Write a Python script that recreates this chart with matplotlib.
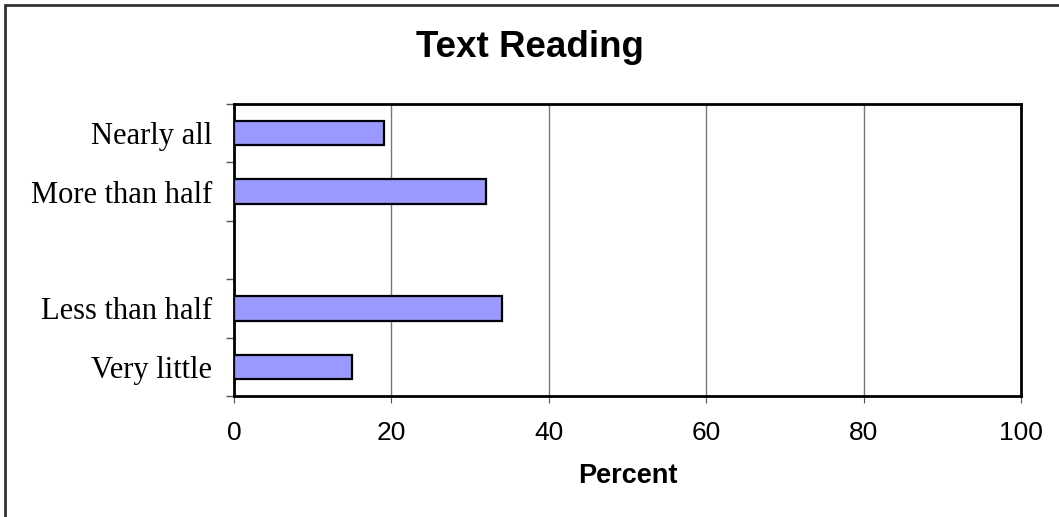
import matplotlib
matplotlib.use("Agg")
import matplotlib.pyplot as plt
from matplotlib.patches import Rectangle

categories = ["Nearly all", "More than half", "", "Less than half", "Very little"]
percent = [19, 32, None, 34, 15]
x_ticks = [0, 20, 40, 60, 80, 100]

fig = plt.figure(figsize=(10.59, 5.17), dpi=100)
ax = fig.add_axes([0.221, 0.234, 0.743, 0.565])

# outer chart frame
fig.patches.append(Rectangle((5 / 1059, -0.1), 1.2, 1 - 5 / 517 + 0.1,
                             transform=fig.transFigure, fill=False,
                             edgecolor="#333333", linewidth=2.0))

pos = [i for i, v in enumerate(percent) if v is not None]
vals = [v for v in percent if v is not None]
ax.barh(pos, vals, height=0.42, color="#9999FF", edgecolor="black", linewidth=1.6, zorder=3)

ax.set_xlim(0, 100)
ax.set_ylim(len(categories) - 0.5, -0.5)
ax.set_xticks(x_ticks)
ax.set_xticklabels([str(t) for t in x_ticks], fontsize=19, family="Liberation Sans")
ax.tick_params(axis="x", length=5, width=0.8, pad=13, color="#555555")
ax.grid(axis="x", color="#777777", linewidth=1.0, zorder=0)

# category boundaries as major ticks, names as minor ticks
ax.set_yticks([i - 0.5 for i in range(len(categories) + 1)])
ax.set_yticklabels([])
ax.set_yticks(range(len(categories)), minor=True)
ax.set_yticklabels(categories, minor=True, fontsize=22, family="Liberation Serif")
ax.tick_params(axis="y", which="major", length=6, width=1.0, color="#555555")
ax.tick_params(axis="y", which="minor", length=0, pad=15.8)

for s in ax.spines.values():
    s.set_linewidth(2.0)
    s.set_color("black")

fig.text(0.5, 1 - 57 / 517, "Text Reading", ha="center", va="baseline",
         fontsize=26.5, fontweight="bold", family="Liberation Sans")
fig.text(627.5 / 1059, 1 - 483 / 517, "Percent", ha="center", va="baseline",
         fontsize=19.5, fontweight="bold", family="Liberation Sans")

fig.savefig("out.png", dpi=100)
